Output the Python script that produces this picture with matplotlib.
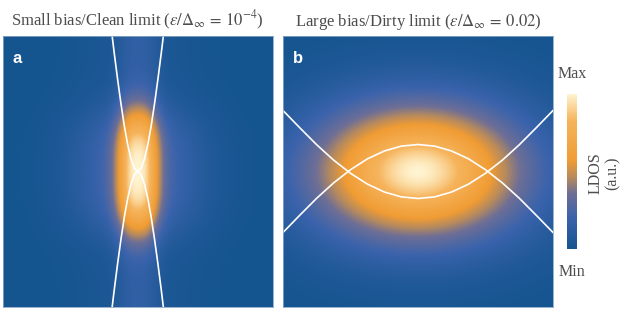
import numpy as np
import matplotlib
matplotlib.use("Agg")
import matplotlib.pyplot as plt
from matplotlib.colors import LinearSegmentedColormap

# ---------------- data ----------------
titles = [r"Small bias/Clean limit ($\epsilon/\Delta_\infty\,=\,10^{-4}$)",
          r"Large bias/Dirty limit ($\epsilon/\Delta_\infty\,=\,0.02$)"]
panel_labels = ["a", "b"]

# panel a: band curves (half, mirrored), axes units
a_curve_x = [0.0, 0.025, 0.05, 0.075, 0.1, 0.125, 0.15, 0.175, 0.2, 0.225]
a_curve_y = [0.0, 0.024, 0.093, 0.200, 0.339, 0.503, 0.684, 0.878, 1.083, 1.29]

# panel b: band curves (half, mirrored)
b_curve_x = [0.0, 0.125, 0.25, 0.375, 0.5, 0.625, 0.75, 0.875, 1.0]
b_curve_y = [0.199, 0.187, 0.151, 0.093, 0.013, -0.084, -0.197, -0.322, -0.450]

# LDOS blob shape parameters
a_blob = dict(core_w=0.15, core_p=2.5, core_amp=0.7, halo_w=0.45, halo_amp=0.3,
              sy=0.47, py=3.0, floor=0.15)
b_blob = dict(sx=0.75, sy=0.48, p=1.8)

cmap_colors = ["#15558f", "#3a63ac", "#6f6f95", "#b68a5e", "#f09c34",
               "#f6b45c", "#fff4d0"]
cmap_pos = [0.0, 0.20, 0.36, 0.46, 0.57, 0.83, 1.0]

cbar_labels = ["Max", "Min"]
cbar_title = "LDOS\n(a.u.)"

# ---------------- figure ----------------
plt.rcParams['font.family'] = ['Liberation Serif', 'DejaVu Serif']
plt.rcParams['mathtext.fontset'] = 'stix'

cmap = LinearSegmentedColormap.from_list("ldos", list(zip(cmap_pos, cmap_colors)))

fig = plt.figure(figsize=(6.23, 3.11), dpi=100)
axa = fig.add_axes([3/623, 1-307/311, 269.5/623, 271/311])
axb = fig.add_axes([283/623, 1-307/311, 270/623, 271/311])
cax = fig.add_axes([567/623, 1-249/311, 10/623, 155/311])

n = 400
g = np.linspace(-1, 1, n)
X, Y = np.meshgrid(g, g)

fa = (a_blob['core_amp']*np.exp(-(np.abs(X)/a_blob['core_w'])**a_blob['core_p'])
      + a_blob['halo_amp']*np.exp(-(X/a_blob['halo_w'])**2))
ha = a_blob['floor'] + (1-a_blob['floor'])*np.exp(-(np.abs(Y)/a_blob['sy'])**a_blob['py'])
Ia = fa*ha

R = np.sqrt((X/b_blob['sx'])**2 + (Y/b_blob['sy'])**2)
Ib = np.exp(-R**b_blob['p'])

for ax, I in ((axa, Ia), (axb, Ib)):
    ax.imshow(I, extent=[-1, 1, -1, 1], origin='lower', cmap=cmap,
              vmin=0, vmax=1, aspect='auto', interpolation='bilinear')
    ax.set_xlim(-1, 1)
    ax.set_ylim(-1, 1)
    ax.set_xticks([])
    ax.set_yticks([])
    for s in ax.spines.values():
        s.set_color('#8aa6c8')
        s.set_linewidth(0.6)

ax_ = np.array(a_curve_x); ay_ = np.array(a_curve_y)
xa_full = np.concatenate([-ax_[::-1], ax_[1:]])
ya_full = np.concatenate([ay_[::-1], ay_[1:]])
axa.plot(xa_full, ya_full, color='white', lw=1.2)
axa.plot(xa_full, -ya_full, color='white', lw=1.2)

bx_ = np.array(b_curve_x); by_ = np.array(b_curve_y)
xb_full = np.concatenate([-bx_[::-1], bx_[1:]])
yb_full = np.concatenate([by_[::-1], by_[1:]])
axb.plot(xb_full, yb_full, color='white', lw=1.2)
axb.plot(xb_full, -yb_full, color='white', lw=1.2)

for ax, t, lab in ((axa, titles[0], panel_labels[0]), (axb, titles[1], panel_labels[1])):
    ax.set_title(t, fontsize=12, color='#4d4d4d', pad=7)
    ax.text(0.035, 0.943, lab, transform=ax.transAxes, color='white',
            fontsize=12, fontweight='bold', family='Liberation Sans',
            va='top', ha='left')

grad = np.linspace(0, 1, 256).reshape(-1, 1)
cax.imshow(grad, origin='lower', aspect='auto', cmap=cmap, extent=[0, 1, 0, 1])
cax.set_xticks([]); cax.set_yticks([])
for s in cax.spines.values():
    s.set_visible(False)
cax.text(0.5, 1.13, cbar_labels[0], transform=cax.transAxes, ha='center',
         va='center', fontsize=11.5, color='#4d4d4d')
cax.text(0.5, -0.15, cbar_labels[1], transform=cax.transAxes, ha='center',
         va='center', fontsize=11.5, color='#4d4d4d')
fig.text(604/623, 1-173/311, cbar_title, rotation=90, ha='center', va='center',
         fontsize=11.5, color='#4d4d4d', linespacing=1.1)

fig.savefig("out.png", dpi=100)
